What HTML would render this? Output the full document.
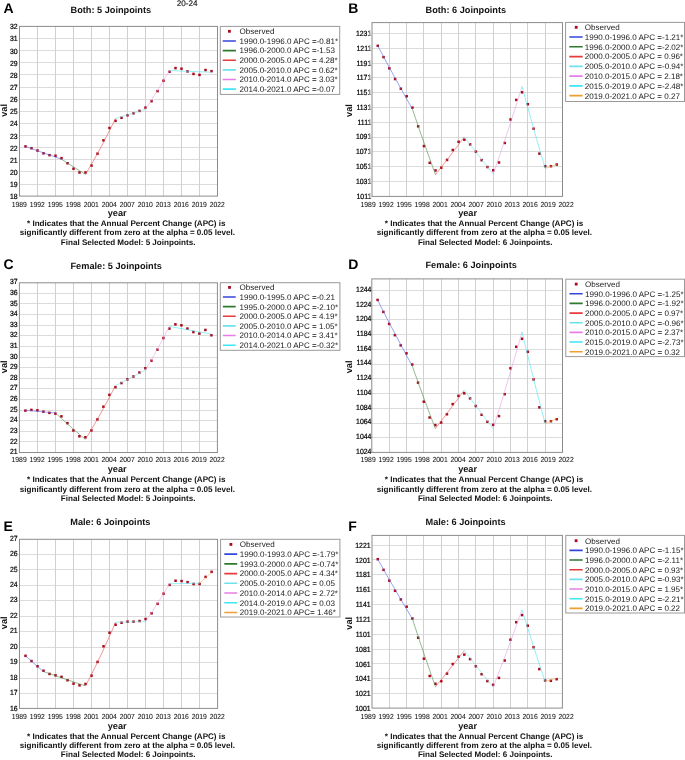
<!DOCTYPE html>
<html><head><meta charset="utf-8"><title>Joinpoint</title><style>
html,body{margin:0;padding:0;background:#fff;}
svg{display:block;filter:blur(0.35px);}
text{font-family:"Liberation Sans", sans-serif;fill:#111;text-rendering:geometricPrecision;}
.let{font-size:14.0px;font-weight:bold;fill:#000;}
.ttl{font-size:9.2px;font-weight:bold;fill:#111;}
.yt{font-size:7.5px;text-anchor:end;fill:#000;stroke:#000;stroke-width:0.22px;}
.xt{font-size:7.4px;text-anchor:middle;fill:#111;stroke:#111;stroke-width:0.06px;}
.al{font-size:9.2px;font-weight:bold;text-anchor:middle;fill:#111;}
.lg{font-size:8.05px;fill:#1a1a1a;}
.fn{font-size:8.08px;font-weight:bold;fill:#111;}
.gh{stroke:#dcdcdc;stroke-width:1;}
.gv{stroke:#d0d0d0;stroke-width:1;}
.bd{fill:none;stroke:#8c8c8c;stroke-width:1;}
.lb{fill:#fff;stroke:#9a9a9a;stroke-width:1;}
</style></head>
<body><svg width="685" height="760" viewBox="0 0 685 760">
<rect width="685" height="760" fill="#fff"/>
<text x="176.7" y="5.9" style="font-size:8.2px;fill:#111;stroke:#111;stroke-width:0.12px">20-24</text>
<text x="3.4" y="12.9" class="let">A</text>
<text x="70.5" y="13.1" class="ttl">Both: 5 Joinpoints</text>
<rect x="19.5" y="26.4" width="198" height="169.7" fill="#fff"/>
<line x1="19.5" x2="217.5" y1="184.5" y2="184.5" class="gh"/>
<line x1="19.5" x2="217.5" y1="171.5" y2="171.5" class="gh"/>
<line x1="19.5" x2="217.5" y1="159.5" y2="159.5" class="gh"/>
<line x1="19.5" x2="217.5" y1="147.5" y2="147.5" class="gh"/>
<line x1="19.5" x2="217.5" y1="135.5" y2="135.5" class="gh"/>
<line x1="19.5" x2="217.5" y1="123.5" y2="123.5" class="gh"/>
<line x1="19.5" x2="217.5" y1="111.5" y2="111.5" class="gh"/>
<line x1="19.5" x2="217.5" y1="99.5" y2="99.5" class="gh"/>
<line x1="19.5" x2="217.5" y1="87.5" y2="87.5" class="gh"/>
<line x1="19.5" x2="217.5" y1="74.5" y2="74.5" class="gh"/>
<line x1="19.5" x2="217.5" y1="62.5" y2="62.5" class="gh"/>
<line x1="19.5" x2="217.5" y1="50.5" y2="50.5" class="gh"/>
<line x1="19.5" x2="217.5" y1="38.5" y2="38.5" class="gh"/>
<line x1="37.5" x2="37.5" y1="26.4" y2="196.1" class="gv"/>
<line x1="55.5" x2="55.5" y1="26.4" y2="196.1" class="gv"/>
<line x1="73.5" x2="73.5" y1="26.4" y2="196.1" class="gv"/>
<line x1="91.5" x2="91.5" y1="26.4" y2="196.1" class="gv"/>
<line x1="109.5" x2="109.5" y1="26.4" y2="196.1" class="gv"/>
<line x1="127.5" x2="127.5" y1="26.4" y2="196.1" class="gv"/>
<line x1="145.5" x2="145.5" y1="26.4" y2="196.1" class="gv"/>
<line x1="163.5" x2="163.5" y1="26.4" y2="196.1" class="gv"/>
<line x1="181.5" x2="181.5" y1="26.4" y2="196.1" class="gv"/>
<line x1="199.5" x2="199.5" y1="26.4" y2="196.1" class="gv"/>
<rect x="19.5" y="26.4" width="198" height="169.7" class="bd"/>
<text transform="translate(17.7,199.18) scale(0.92,1)" class="yt">18</text>
<text transform="translate(17.7,187.05) scale(0.92,1)" class="yt">19</text>
<text transform="translate(17.7,174.92) scale(0.92,1)" class="yt">20</text>
<text transform="translate(17.7,162.79) scale(0.92,1)" class="yt">21</text>
<text transform="translate(17.7,150.66) scale(0.92,1)" class="yt">22</text>
<text transform="translate(17.7,138.53) scale(0.92,1)" class="yt">23</text>
<text transform="translate(17.7,126.39) scale(0.92,1)" class="yt">24</text>
<text transform="translate(17.7,114.26) scale(0.92,1)" class="yt">25</text>
<text transform="translate(17.7,102.13) scale(0.92,1)" class="yt">26</text>
<text transform="translate(17.7,90) scale(0.92,1)" class="yt">27</text>
<text transform="translate(17.7,77.87) scale(0.92,1)" class="yt">28</text>
<text transform="translate(17.7,65.74) scale(0.92,1)" class="yt">29</text>
<text transform="translate(17.7,53.61) scale(0.92,1)" class="yt">30</text>
<text transform="translate(17.7,41.48) scale(0.92,1)" class="yt">31</text>
<text transform="translate(17.7,29.35) scale(0.92,1)" class="yt">32</text>
<text transform="translate(19.2,206.7) scale(0.92,1)" class="xt">1989</text>
<text transform="translate(37.2,206.7) scale(0.92,1)" class="xt">1992</text>
<text transform="translate(55.2,206.7) scale(0.92,1)" class="xt">1995</text>
<text transform="translate(73.2,206.7) scale(0.92,1)" class="xt">1998</text>
<text transform="translate(91.2,206.7) scale(0.92,1)" class="xt">2001</text>
<text transform="translate(109.2,206.7) scale(0.92,1)" class="xt">2004</text>
<text transform="translate(127.2,206.7) scale(0.92,1)" class="xt">2007</text>
<text transform="translate(145.2,206.7) scale(0.92,1)" class="xt">2010</text>
<text transform="translate(163.2,206.7) scale(0.92,1)" class="xt">2013</text>
<text transform="translate(181.2,206.7) scale(0.92,1)" class="xt">2016</text>
<text transform="translate(199.2,206.7) scale(0.92,1)" class="xt">2019</text>
<text transform="translate(217.2,206.7) scale(0.92,1)" class="xt">2022</text>
<text transform="translate(6.8,110.4) rotate(-90)" class="al">val</text>
<text x="117.2" y="215.7" class="al">year</text>
<rect x="24.25" y="145.16" width="2.5" height="2.5" fill="#a80a1c"/>
<rect x="30.25" y="146.98" width="2.5" height="2.5" fill="#a80a1c"/>
<rect x="36.25" y="149.28" width="2.5" height="2.5" fill="#a80a1c"/>
<rect x="42.25" y="152.07" width="2.5" height="2.5" fill="#a80a1c"/>
<rect x="48.25" y="153.88" width="2.5" height="2.5" fill="#a80a1c"/>
<rect x="54.25" y="154.49" width="2.5" height="2.5" fill="#a80a1c"/>
<rect x="60.25" y="156.91" width="2.5" height="2.5" fill="#a80a1c"/>
<rect x="66.25" y="162" width="2.5" height="2.5" fill="#a80a1c"/>
<rect x="72.25" y="167.46" width="2.5" height="2.5" fill="#a80a1c"/>
<rect x="78.25" y="171.22" width="2.5" height="2.5" fill="#a80a1c"/>
<rect x="84.25" y="171.22" width="2.5" height="2.5" fill="#a80a1c"/>
<rect x="90.25" y="164.31" width="2.5" height="2.5" fill="#a80a1c"/>
<rect x="96.25" y="152.43" width="2.5" height="2.5" fill="#a80a1c"/>
<rect x="102.25" y="139.1" width="2.5" height="2.5" fill="#a80a1c"/>
<rect x="108.25" y="126.74" width="2.5" height="2.5" fill="#a80a1c"/>
<rect x="114.25" y="119.58" width="2.5" height="2.5" fill="#a80a1c"/>
<rect x="120.25" y="116.55" width="2.5" height="2.5" fill="#a80a1c"/>
<rect x="126.25" y="114.01" width="2.5" height="2.5" fill="#a80a1c"/>
<rect x="132.25" y="112.07" width="2.5" height="2.5" fill="#a80a1c"/>
<rect x="138.25" y="109.65" width="2.5" height="2.5" fill="#a80a1c"/>
<rect x="144.25" y="106.37" width="2.5" height="2.5" fill="#a80a1c"/>
<rect x="150.25" y="99.95" width="2.5" height="2.5" fill="#a80a1c"/>
<rect x="156.25" y="89.89" width="2.5" height="2.5" fill="#a80a1c"/>
<rect x="162.25" y="79.47" width="2.5" height="2.5" fill="#a80a1c"/>
<rect x="168.25" y="70.5" width="2.5" height="2.5" fill="#a80a1c"/>
<rect x="174.25" y="66.86" width="2.5" height="2.5" fill="#a80a1c"/>
<rect x="180.25" y="67.47" width="2.5" height="2.5" fill="#a80a1c"/>
<rect x="186.25" y="70.14" width="2.5" height="2.5" fill="#a80a1c"/>
<rect x="192.25" y="72.68" width="2.5" height="2.5" fill="#a80a1c"/>
<rect x="198.25" y="73.65" width="2.5" height="2.5" fill="#a80a1c"/>
<rect x="204.25" y="68.8" width="2.5" height="2.5" fill="#a80a1c"/>
<rect x="210.25" y="69.89" width="2.5" height="2.5" fill="#a80a1c"/>
<polyline points="25.5,146.41 27,146.95 28.5,147.5 30,148.04 31.5,148.58 33,149.12 34.5,149.66 36,150.19 37.5,150.73 39,151.26 40.5,151.8 42,152.33 43.5,152.86 45,153.4 46.5,153.93 48,154.45 49.5,154.98 51,155.51 52.5,156.03 54,156.56 55.5,157.08 57,157.6 58.5,158.13 60,158.65 61.5,159.16" fill="none" stroke="#5262ec" stroke-width="0.75" stroke-opacity="0.8"/>
<polyline points="61.5,159.16 63,160.15 64.5,161.12 66,162.1 67.5,163.07 69,164.03 70.5,165 72,165.96 73.5,166.91 75,167.86 76.5,168.81 78,169.75 79.5,170.7 81,171.63 82.5,172.57 84,173.5 85.5,174.42" fill="none" stroke="#4a8c4a" stroke-width="0.75" stroke-opacity="0.8"/>
<polyline points="85.5,174.42 87,171.9 88.5,169.34 90,166.76 91.5,164.16 93,161.52 94.5,158.86 96,156.17 97.5,153.45 99,150.71 100.5,147.93 102,145.12 103.5,142.29 105,139.43 106.5,136.53 108,133.61 109.5,130.65 111,127.66 112.5,124.64 114,121.59 115.5,118.51" fill="none" stroke="#ea4c4c" stroke-width="0.75" stroke-opacity="0.8"/>
<polyline points="115.5,118.51 117,118.05 118.5,117.6 120,117.14 121.5,116.68 123,116.22 124.5,115.76 126,115.29 127.5,114.83 129,114.37 130.5,113.91 132,113.44 133.5,112.98 135,112.51 136.5,112.04 138,111.58 139.5,111.11 141,110.64 142.5,110.17 144,109.7 145.5,109.23" fill="none" stroke="#6ae2ee" stroke-width="0.75" stroke-opacity="0.8"/>
<polyline points="145.5,109.23 147,106.94 148.5,104.64 150,102.32 151.5,99.99 153,97.63 154.5,95.26 156,92.87 157.5,90.46 159,88.04 160.5,85.59 162,83.13 163.5,80.65 165,78.15 166.5,75.64 168,73.1 169.5,70.54" fill="none" stroke="#e6a0e8" stroke-width="0.75" stroke-opacity="0.8"/>
<polyline points="169.5,70.54 171,70.6 172.5,70.66 174,70.72 175.5,70.78 177,70.84 178.5,70.91 180,70.97 181.5,71.03 183,71.09 184.5,71.15 186,71.21 187.5,71.27 189,71.33 190.5,71.39 192,71.45 193.5,71.51 195,71.57 196.5,71.63 198,71.69 199.5,71.75 201,71.81 202.5,71.87 204,71.93 205.5,71.99 207,72.05 208.5,72.11 210,72.17 211.5,72.22" fill="none" stroke="#48e4f0" stroke-width="0.75" stroke-opacity="0.8"/>
<rect x="220.3" y="26.4" width="119.4" height="68" class="lb"/>
<clipPath id="clA"><rect x="220.3" y="26.4" width="118.8" height="68"/></clipPath>
<g clip-path="url(#clA)">
<rect x="228" y="29.9" width="2.8" height="2.8" fill="#a80a1c"/>
<text x="239.5" y="34.2" class="lg">Observed</text>
<line x1="222.7" x2="235.9" y1="40.94" y2="40.94" stroke="#3346dc" stroke-width="1.6"/>
<text x="239.5" y="43.84" class="lg">1990.0-1996.0 APC =-0.81*</text>
<line x1="222.7" x2="235.9" y1="50.58" y2="50.58" stroke="#2e7a2e" stroke-width="1.6"/>
<text x="239.5" y="53.48" class="lg">1996.0-2000.0 APC =-1.53</text>
<line x1="222.7" x2="235.9" y1="60.22" y2="60.22" stroke="#e83a3a" stroke-width="1.6"/>
<text x="239.5" y="63.12" class="lg">2000.0-2005.0 APC = 4.28*</text>
<line x1="222.7" x2="235.9" y1="69.86" y2="69.86" stroke="#6ee0ea" stroke-width="1.6"/>
<text x="239.5" y="72.76" class="lg">2005.0-2010.0 APC = 0.62*</text>
<line x1="222.7" x2="235.9" y1="79.5" y2="79.5" stroke="#e57ee8" stroke-width="1.6"/>
<text x="239.5" y="82.4" class="lg">2010.0-2014.0 APC = 3.03*</text>
<line x1="222.7" x2="235.9" y1="89.14" y2="89.14" stroke="#3de6f2" stroke-width="1.6"/>
<text x="239.5" y="92.04" class="lg">2014.0-2021.0 APC =-0.07</text>
</g>
<text x="27" y="225.7" class="fn">* Indicates that the Annual Percent Change (APC) is</text>
<text x="19.8" y="235.1" class="fn">significantly different from zero at the alpha = 0.05 level.</text>
<text x="60.8" y="244.5" class="fn">Final Selected Model: 5 Joinpoints.</text>
<text x="348.3" y="12.8" class="let">B</text>
<text x="425.5" y="12.9" class="ttl">Both: 6 Joinpoints</text>
<rect x="372" y="22.6" width="190.5" height="173.8" fill="#fff"/>
<line x1="372" x2="562.5" y1="181.5" y2="181.5" class="gh"/>
<line x1="372" x2="562.5" y1="166.5" y2="166.5" class="gh"/>
<line x1="372" x2="562.5" y1="151.5" y2="151.5" class="gh"/>
<line x1="372" x2="562.5" y1="137.5" y2="137.5" class="gh"/>
<line x1="372" x2="562.5" y1="122.5" y2="122.5" class="gh"/>
<line x1="372" x2="562.5" y1="107.5" y2="107.5" class="gh"/>
<line x1="372" x2="562.5" y1="92.5" y2="92.5" class="gh"/>
<line x1="372" x2="562.5" y1="77.5" y2="77.5" class="gh"/>
<line x1="372" x2="562.5" y1="63.5" y2="63.5" class="gh"/>
<line x1="372" x2="562.5" y1="48.5" y2="48.5" class="gh"/>
<line x1="372" x2="562.5" y1="33.5" y2="33.5" class="gh"/>
<line x1="389.5" x2="389.5" y1="22.6" y2="196.4" class="gv"/>
<line x1="406.5" x2="406.5" y1="22.6" y2="196.4" class="gv"/>
<line x1="423.5" x2="423.5" y1="22.6" y2="196.4" class="gv"/>
<line x1="441.5" x2="441.5" y1="22.6" y2="196.4" class="gv"/>
<line x1="458.5" x2="458.5" y1="22.6" y2="196.4" class="gv"/>
<line x1="475.5" x2="475.5" y1="22.6" y2="196.4" class="gv"/>
<line x1="493.5" x2="493.5" y1="22.6" y2="196.4" class="gv"/>
<line x1="510.5" x2="510.5" y1="22.6" y2="196.4" class="gv"/>
<line x1="527.5" x2="527.5" y1="22.6" y2="196.4" class="gv"/>
<line x1="545.5" x2="545.5" y1="22.6" y2="196.4" class="gv"/>
<rect x="372" y="22.6" width="190.5" height="173.8" class="bd"/>
<text transform="translate(371.3,198.58) scale(0.92,1)" class="yt">1011</text>
<text transform="translate(371.3,183.81) scale(0.92,1)" class="yt">1031</text>
<text transform="translate(371.3,169.03) scale(0.92,1)" class="yt">1051</text>
<text transform="translate(371.3,154.26) scale(0.92,1)" class="yt">1071</text>
<text transform="translate(371.3,139.48) scale(0.92,1)" class="yt">1091</text>
<text transform="translate(371.3,124.71) scale(0.92,1)" class="yt">1111</text>
<text transform="translate(371.3,109.94) scale(0.92,1)" class="yt">1131</text>
<text transform="translate(371.3,95.16) scale(0.92,1)" class="yt">1151</text>
<text transform="translate(371.3,80.39) scale(0.92,1)" class="yt">1171</text>
<text transform="translate(371.3,65.61) scale(0.92,1)" class="yt">1191</text>
<text transform="translate(371.3,50.84) scale(0.92,1)" class="yt">1211</text>
<text transform="translate(371.3,36.07) scale(0.92,1)" class="yt">1231</text>
<rect x="369.1" y="193.18" width="2.4" height="5.2" fill="#c4c4c4" fill-opacity="0.75"/>
<rect x="369.1" y="178.41" width="2.4" height="5.2" fill="#c4c4c4" fill-opacity="0.75"/>
<rect x="369.1" y="163.63" width="2.4" height="5.2" fill="#c4c4c4" fill-opacity="0.75"/>
<rect x="369.1" y="148.86" width="2.4" height="5.2" fill="#c4c4c4" fill-opacity="0.75"/>
<rect x="369.1" y="134.08" width="2.4" height="5.2" fill="#c4c4c4" fill-opacity="0.75"/>
<rect x="369.1" y="119.31" width="2.4" height="5.2" fill="#c4c4c4" fill-opacity="0.75"/>
<rect x="369.1" y="104.54" width="2.4" height="5.2" fill="#c4c4c4" fill-opacity="0.75"/>
<rect x="369.1" y="89.76" width="2.4" height="5.2" fill="#c4c4c4" fill-opacity="0.75"/>
<rect x="369.1" y="74.99" width="2.4" height="5.2" fill="#c4c4c4" fill-opacity="0.75"/>
<rect x="369.1" y="60.21" width="2.4" height="5.2" fill="#c4c4c4" fill-opacity="0.75"/>
<rect x="369.1" y="45.44" width="2.4" height="5.2" fill="#c4c4c4" fill-opacity="0.75"/>
<rect x="369.1" y="30.67" width="2.4" height="5.2" fill="#c4c4c4" fill-opacity="0.75"/>
<text transform="translate(368.1,206.7) scale(0.92,1)" class="xt">1989</text>
<text transform="translate(386.1,206.7) scale(0.92,1)" class="xt">1992</text>
<text transform="translate(404.1,206.7) scale(0.92,1)" class="xt">1995</text>
<text transform="translate(422.1,206.7) scale(0.92,1)" class="xt">1998</text>
<text transform="translate(440.1,206.7) scale(0.92,1)" class="xt">2001</text>
<text transform="translate(458.1,206.7) scale(0.92,1)" class="xt">2004</text>
<text transform="translate(476.1,206.7) scale(0.92,1)" class="xt">2007</text>
<text transform="translate(494.1,206.7) scale(0.92,1)" class="xt">2010</text>
<text transform="translate(512.1,206.7) scale(0.92,1)" class="xt">2013</text>
<text transform="translate(530.1,206.7) scale(0.92,1)" class="xt">2016</text>
<text transform="translate(548.1,206.7) scale(0.92,1)" class="xt">2019</text>
<text transform="translate(566.1,206.7) scale(0.92,1)" class="xt">2022</text>
<text transform="translate(352.1,110.5) rotate(-90)" class="al">val</text>
<text x="467.6" y="216" class="al">year</text>
<rect x="376.52" y="44.56" width="2.5" height="2.5" fill="#a80a1c"/>
<rect x="382.3" y="55.88" width="2.5" height="2.5" fill="#a80a1c"/>
<rect x="388.07" y="67.06" width="2.5" height="2.5" fill="#a80a1c"/>
<rect x="393.84" y="77.79" width="2.5" height="2.5" fill="#a80a1c"/>
<rect x="399.61" y="87.48" width="2.5" height="2.5" fill="#a80a1c"/>
<rect x="405.39" y="95.03" width="2.5" height="2.5" fill="#a80a1c"/>
<rect x="411.16" y="106.35" width="2.5" height="2.5" fill="#a80a1c"/>
<rect x="416.93" y="125.07" width="2.5" height="2.5" fill="#a80a1c"/>
<rect x="422.7" y="144.83" width="2.5" height="2.5" fill="#a80a1c"/>
<rect x="428.48" y="161.55" width="2.5" height="2.5" fill="#a80a1c"/>
<rect x="434.25" y="169.18" width="2.5" height="2.5" fill="#a80a1c"/>
<rect x="440.02" y="166.44" width="2.5" height="2.5" fill="#a80a1c"/>
<rect x="445.8" y="158.67" width="2.5" height="2.5" fill="#a80a1c"/>
<rect x="451.57" y="148.75" width="2.5" height="2.5" fill="#a80a1c"/>
<rect x="457.34" y="140.54" width="2.5" height="2.5" fill="#a80a1c"/>
<rect x="463.11" y="138.47" width="2.5" height="2.5" fill="#a80a1c"/>
<rect x="468.89" y="143.13" width="2.5" height="2.5" fill="#a80a1c"/>
<rect x="474.66" y="150.45" width="2.5" height="2.5" fill="#a80a1c"/>
<rect x="480.43" y="158.89" width="2.5" height="2.5" fill="#a80a1c"/>
<rect x="486.2" y="165.77" width="2.5" height="2.5" fill="#a80a1c"/>
<rect x="491.98" y="169.03" width="2.5" height="2.5" fill="#a80a1c"/>
<rect x="497.75" y="161.26" width="2.5" height="2.5" fill="#a80a1c"/>
<rect x="503.52" y="141.72" width="2.5" height="2.5" fill="#a80a1c"/>
<rect x="509.3" y="118.26" width="2.5" height="2.5" fill="#a80a1c"/>
<rect x="515.07" y="98.65" width="2.5" height="2.5" fill="#a80a1c"/>
<rect x="520.84" y="91.03" width="2.5" height="2.5" fill="#a80a1c"/>
<rect x="526.61" y="102.95" width="2.5" height="2.5" fill="#a80a1c"/>
<rect x="532.39" y="127.44" width="2.5" height="2.5" fill="#a80a1c"/>
<rect x="538.16" y="152.38" width="2.5" height="2.5" fill="#a80a1c"/>
<rect x="543.93" y="164.96" width="2.5" height="2.5" fill="#a80a1c"/>
<rect x="549.7" y="164.96" width="2.5" height="2.5" fill="#a80a1c"/>
<rect x="555.48" y="163.26" width="2.5" height="2.5" fill="#a80a1c"/>
<polyline points="377.77,45.81 379.22,48.54 380.66,51.26 382.1,53.98 383.55,56.68 384.99,59.38 386.43,62.07 387.88,64.75 389.32,67.43 390.76,70.09 392.2,72.75 393.65,75.4 395.09,78.04 396.53,80.67 397.98,83.3 399.42,85.92 400.86,88.53 402.31,91.13 403.75,93.72 405.19,96.31 406.64,98.88 408.08,101.45 409.52,104.01 410.97,106.57 412.41,109.12" fill="none" stroke="#5262ec" stroke-width="0.75" stroke-opacity="0.8"/>
<polyline points="412.41,109.12 413.85,113.37 415.3,117.6 416.74,121.8 418.18,125.99 419.62,130.16 421.07,134.3 422.51,138.42 423.95,142.53 425.4,146.61 426.84,150.67 428.28,154.71 429.73,158.73 431.17,162.73 432.61,166.7 434.06,170.66 435.5,174.6" fill="none" stroke="#4a8c4a" stroke-width="0.75" stroke-opacity="0.8"/>
<polyline points="435.5,174.6 436.94,172.76 438.39,170.91 439.83,169.06 441.27,167.21 442.72,165.35 444.16,163.49 445.6,161.62 447.05,159.75 448.49,157.87 449.93,155.99 451.38,154.1 452.82,152.21 454.26,150.32 455.7,148.42 457.15,146.51 458.59,144.61 460.03,142.69 461.48,140.78 462.92,138.85 464.36,136.93" fill="none" stroke="#ea4c4c" stroke-width="0.75" stroke-opacity="0.8"/>
<polyline points="464.36,136.93 465.81,138.83 467.25,140.73 468.69,142.63 470.14,144.52 471.58,146.4 473.02,148.29 474.47,150.16 475.91,152.04 477.35,153.91 478.8,155.77 480.24,157.63 481.68,159.49 483.12,161.34 484.57,163.19 486.01,165.03 487.45,166.87 488.9,168.7 490.34,170.53 491.78,172.36 493.23,174.18" fill="none" stroke="#6ae2ee" stroke-width="0.75" stroke-opacity="0.8"/>
<polyline points="493.23,174.18 494.67,170.01 496.11,165.83 497.56,161.62 499,157.38 500.44,153.13 501.89,148.85 503.33,144.55 504.77,140.22 506.22,135.88 507.66,131.5 509.1,127.11 510.55,122.69 511.99,118.25 513.43,113.78 514.88,109.29 516.32,104.77 517.76,100.23 519.2,95.67 520.65,91.08 522.09,86.47" fill="none" stroke="#e6a0e8" stroke-width="0.75" stroke-opacity="0.8"/>
<polyline points="522.09,86.47 523.53,91.84 524.98,97.17 526.42,102.48 527.86,107.75 529.31,112.98 530.75,118.19 532.19,123.36 533.64,128.5 535.08,133.61 536.52,138.68 537.97,143.72 539.41,148.74 540.85,153.72 542.3,158.67 543.74,163.58 545.18,168.47" fill="none" stroke="#48e4f0" stroke-width="0.75" stroke-opacity="0.8"/>
<polyline points="545.18,168.47 546.62,167.95 548.07,167.43 549.51,166.9 550.95,166.38 552.4,165.85 553.84,165.33 555.28,164.8 556.73,164.28" fill="none" stroke="#f0a840" stroke-width="0.75" stroke-opacity="0.8"/>
<rect x="565.6" y="22.4" width="118.9" height="79.1" class="lb"/>
<clipPath id="clB"><rect x="565.6" y="22.4" width="118.3" height="79.1"/></clipPath>
<g clip-path="url(#clB)">
<rect x="574.8" y="25.9" width="2.8" height="2.8" fill="#a80a1c"/>
<text x="584.8" y="30.2" class="lg">Observed</text>
<line x1="569.3" x2="582.7" y1="37.06" y2="37.06" stroke="#3346dc" stroke-width="1.6"/>
<text x="584.8" y="39.96" class="lg">1990.0-1996.0 APC =-1.21*</text>
<line x1="569.3" x2="582.7" y1="46.82" y2="46.82" stroke="#2e7a2e" stroke-width="1.6"/>
<text x="584.8" y="49.72" class="lg">1996.0-2000.0 APC =-2.02*</text>
<line x1="569.3" x2="582.7" y1="56.58" y2="56.58" stroke="#e83a3a" stroke-width="1.6"/>
<text x="584.8" y="59.48" class="lg">2000.0-2005.0 APC = 0.96*</text>
<line x1="569.3" x2="582.7" y1="66.34" y2="66.34" stroke="#6ee0ea" stroke-width="1.6"/>
<text x="584.8" y="69.24" class="lg">2005.0-2010.0 APC =-0.94*</text>
<line x1="569.3" x2="582.7" y1="76.1" y2="76.1" stroke="#e57ee8" stroke-width="1.6"/>
<text x="584.8" y="79" class="lg">2010.0-2015.0 APC = 2.18*</text>
<line x1="569.3" x2="582.7" y1="85.86" y2="85.86" stroke="#3de6f2" stroke-width="1.6"/>
<text x="584.8" y="88.76" class="lg">2015.0-2019.0 APC =-2.48*</text>
<line x1="569.3" x2="582.7" y1="95.62" y2="95.62" stroke="#f0a030" stroke-width="1.6"/>
<text x="584.8" y="98.52" class="lg">2019.0-2021.0 APC = 0.27</text>
</g>
<text x="384.8" y="225.7" class="fn">* Indicates that the Annual Percent Change (APC) is</text>
<text x="376.8" y="235.1" class="fn">significantly different from zero at the alpha = 0.05 level.</text>
<text x="417.9" y="244.5" class="fn">Final Selected Model: 6 Joinpoints.</text>
<text x="3.4" y="269.2" class="let">C</text>
<text x="70.5" y="268.6" class="ttl">Female: 5 Joinpoints</text>
<rect x="19.4" y="282.8" width="198" height="169.7" fill="#fff"/>
<line x1="19.4" x2="217.4" y1="441.5" y2="441.5" class="gh"/>
<line x1="19.4" x2="217.4" y1="431.5" y2="431.5" class="gh"/>
<line x1="19.4" x2="217.4" y1="420.5" y2="420.5" class="gh"/>
<line x1="19.4" x2="217.4" y1="410.5" y2="410.5" class="gh"/>
<line x1="19.4" x2="217.4" y1="399.5" y2="399.5" class="gh"/>
<line x1="19.4" x2="217.4" y1="388.5" y2="388.5" class="gh"/>
<line x1="19.4" x2="217.4" y1="378.5" y2="378.5" class="gh"/>
<line x1="19.4" x2="217.4" y1="367.5" y2="367.5" class="gh"/>
<line x1="19.4" x2="217.4" y1="357.5" y2="357.5" class="gh"/>
<line x1="19.4" x2="217.4" y1="346.5" y2="346.5" class="gh"/>
<line x1="19.4" x2="217.4" y1="335.5" y2="335.5" class="gh"/>
<line x1="19.4" x2="217.4" y1="325.5" y2="325.5" class="gh"/>
<line x1="19.4" x2="217.4" y1="314.5" y2="314.5" class="gh"/>
<line x1="19.4" x2="217.4" y1="303.5" y2="303.5" class="gh"/>
<line x1="19.4" x2="217.4" y1="293.5" y2="293.5" class="gh"/>
<line x1="37.5" x2="37.5" y1="282.8" y2="452.5" class="gv"/>
<line x1="55.5" x2="55.5" y1="282.8" y2="452.5" class="gv"/>
<line x1="73.5" x2="73.5" y1="282.8" y2="452.5" class="gv"/>
<line x1="91.5" x2="91.5" y1="282.8" y2="452.5" class="gv"/>
<line x1="109.5" x2="109.5" y1="282.8" y2="452.5" class="gv"/>
<line x1="127.5" x2="127.5" y1="282.8" y2="452.5" class="gv"/>
<line x1="145.5" x2="145.5" y1="282.8" y2="452.5" class="gv"/>
<line x1="163.5" x2="163.5" y1="282.8" y2="452.5" class="gv"/>
<line x1="181.5" x2="181.5" y1="282.8" y2="452.5" class="gv"/>
<line x1="199.5" x2="199.5" y1="282.8" y2="452.5" class="gv"/>
<rect x="19.4" y="282.8" width="198" height="169.7" class="bd"/>
<text transform="translate(17.7,454.18) scale(0.92,1)" class="yt">21</text>
<text transform="translate(17.7,443.56) scale(0.92,1)" class="yt">22</text>
<text transform="translate(17.7,432.95) scale(0.92,1)" class="yt">23</text>
<text transform="translate(17.7,422.34) scale(0.92,1)" class="yt">24</text>
<text transform="translate(17.7,411.72) scale(0.92,1)" class="yt">25</text>
<text transform="translate(17.7,401.11) scale(0.92,1)" class="yt">26</text>
<text transform="translate(17.7,390.49) scale(0.92,1)" class="yt">27</text>
<text transform="translate(17.7,379.88) scale(0.92,1)" class="yt">28</text>
<text transform="translate(17.7,369.26) scale(0.92,1)" class="yt">29</text>
<text transform="translate(17.7,358.64) scale(0.92,1)" class="yt">30</text>
<text transform="translate(17.7,348.03) scale(0.92,1)" class="yt">31</text>
<text transform="translate(17.7,337.42) scale(0.92,1)" class="yt">32</text>
<text transform="translate(17.7,326.8) scale(0.92,1)" class="yt">33</text>
<text transform="translate(17.7,316.19) scale(0.92,1)" class="yt">34</text>
<text transform="translate(17.7,305.57) scale(0.92,1)" class="yt">35</text>
<text transform="translate(17.7,294.96) scale(0.92,1)" class="yt">36</text>
<text transform="translate(17.7,284.34) scale(0.92,1)" class="yt">37</text>
<text transform="translate(19.1,462.4) scale(0.92,1)" class="xt">1989</text>
<text transform="translate(37.1,462.4) scale(0.92,1)" class="xt">1992</text>
<text transform="translate(55.1,462.4) scale(0.92,1)" class="xt">1995</text>
<text transform="translate(73.1,462.4) scale(0.92,1)" class="xt">1998</text>
<text transform="translate(91.1,462.4) scale(0.92,1)" class="xt">2001</text>
<text transform="translate(109.1,462.4) scale(0.92,1)" class="xt">2004</text>
<text transform="translate(127.1,462.4) scale(0.92,1)" class="xt">2007</text>
<text transform="translate(145.1,462.4) scale(0.92,1)" class="xt">2010</text>
<text transform="translate(163.1,462.4) scale(0.92,1)" class="xt">2013</text>
<text transform="translate(181.1,462.4) scale(0.92,1)" class="xt">2016</text>
<text transform="translate(199.1,462.4) scale(0.92,1)" class="xt">2019</text>
<text transform="translate(217.1,462.4) scale(0.92,1)" class="xt">2022</text>
<text transform="translate(6.8,366.8) rotate(-90)" class="al">val</text>
<text x="117.2" y="472.1" class="al">year</text>
<rect x="24.15" y="409.38" width="2.5" height="2.5" fill="#a80a1c"/>
<rect x="30.15" y="408.64" width="2.5" height="2.5" fill="#a80a1c"/>
<rect x="36.15" y="409.06" width="2.5" height="2.5" fill="#a80a1c"/>
<rect x="42.15" y="410.44" width="2.5" height="2.5" fill="#a80a1c"/>
<rect x="48.15" y="411.61" width="2.5" height="2.5" fill="#a80a1c"/>
<rect x="54.15" y="412.35" width="2.5" height="2.5" fill="#a80a1c"/>
<rect x="60.15" y="415.1" width="2.5" height="2.5" fill="#a80a1c"/>
<rect x="66.15" y="421.89" width="2.5" height="2.5" fill="#a80a1c"/>
<rect x="72.15" y="429.2" width="2.5" height="2.5" fill="#a80a1c"/>
<rect x="78.15" y="435.03" width="2.5" height="2.5" fill="#a80a1c"/>
<rect x="84.15" y="435.99" width="2.5" height="2.5" fill="#a80a1c"/>
<rect x="90.15" y="429.2" width="2.5" height="2.5" fill="#a80a1c"/>
<rect x="96.15" y="418.18" width="2.5" height="2.5" fill="#a80a1c"/>
<rect x="102.15" y="405.46" width="2.5" height="2.5" fill="#a80a1c"/>
<rect x="108.15" y="393.59" width="2.5" height="2.5" fill="#a80a1c"/>
<rect x="114.15" y="385.95" width="2.5" height="2.5" fill="#a80a1c"/>
<rect x="120.15" y="381.82" width="2.5" height="2.5" fill="#a80a1c"/>
<rect x="126.15" y="378.11" width="2.5" height="2.5" fill="#a80a1c"/>
<rect x="132.15" y="375.25" width="2.5" height="2.5" fill="#a80a1c"/>
<rect x="138.15" y="371.33" width="2.5" height="2.5" fill="#a80a1c"/>
<rect x="144.15" y="366.98" width="2.5" height="2.5" fill="#a80a1c"/>
<rect x="150.15" y="359.45" width="2.5" height="2.5" fill="#a80a1c"/>
<rect x="156.15" y="348.43" width="2.5" height="2.5" fill="#a80a1c"/>
<rect x="162.15" y="336.77" width="2.5" height="2.5" fill="#a80a1c"/>
<rect x="168.15" y="327.34" width="2.5" height="2.5" fill="#a80a1c"/>
<rect x="174.15" y="323.1" width="2.5" height="2.5" fill="#a80a1c"/>
<rect x="180.15" y="324.05" width="2.5" height="2.5" fill="#a80a1c"/>
<rect x="186.15" y="327.34" width="2.5" height="2.5" fill="#a80a1c"/>
<rect x="192.15" y="330.83" width="2.5" height="2.5" fill="#a80a1c"/>
<rect x="198.15" y="332.32" width="2.5" height="2.5" fill="#a80a1c"/>
<rect x="204.15" y="328.71" width="2.5" height="2.5" fill="#a80a1c"/>
<rect x="210.15" y="334.01" width="2.5" height="2.5" fill="#a80a1c"/>
<polyline points="25.4,410.21 26.9,410.35 28.4,410.48 29.9,410.62 31.4,410.76 32.9,410.9 34.4,411.04 35.9,411.18 37.4,411.32 38.9,411.46 40.4,411.59 41.9,411.73 43.4,411.87 44.9,412.01 46.4,412.15 47.9,412.29 49.4,412.42 50.9,412.56 52.4,412.7 53.9,412.84 55.4,412.98" fill="none" stroke="#5262ec" stroke-width="0.75" stroke-opacity="0.8"/>
<polyline points="55.4,412.98 56.9,414.36 58.4,415.74 59.9,417.12 61.4,418.48 62.9,419.84 64.4,421.19 65.9,422.53 67.4,423.87 68.9,425.2 70.4,426.52 71.9,427.84 73.4,429.15 74.9,430.45 76.4,431.74 77.9,433.03 79.4,434.31 80.9,435.58 82.4,436.85 83.9,438.11 85.4,439.37" fill="none" stroke="#4a8c4a" stroke-width="0.75" stroke-opacity="0.8"/>
<polyline points="85.4,439.37 86.9,436.94 88.4,434.48 89.9,432 91.4,429.49 92.9,426.96 94.4,424.4 95.9,421.81 97.4,419.2 98.9,416.56 100.4,413.89 101.9,411.2 103.4,408.48 104.9,405.73 106.4,402.95 107.9,400.14 109.4,397.3 110.9,394.44 112.4,391.54 113.9,388.62 115.4,385.67" fill="none" stroke="#ea4c4c" stroke-width="0.75" stroke-opacity="0.8"/>
<polyline points="115.4,385.67 116.9,384.91 118.4,384.15 119.9,383.39 121.4,382.63 122.9,381.86 124.4,381.09 125.9,380.33 127.4,379.56 128.9,378.78 130.4,378.01 131.9,377.23 133.4,376.45 134.9,375.67 136.4,374.89 137.9,374.1 139.4,373.32 140.9,372.53 142.4,371.74 143.9,370.94 145.4,370.15" fill="none" stroke="#6ae2ee" stroke-width="0.75" stroke-opacity="0.8"/>
<polyline points="145.4,370.15 146.9,367.58 148.4,364.99 149.9,362.38 151.4,359.75 152.9,357.09 154.4,354.42 155.9,351.72 157.4,348.99 158.9,346.25 160.4,343.48 161.9,340.69 163.4,337.87 164.9,335.04 166.4,332.17 167.9,329.29 169.4,326.38" fill="none" stroke="#e6a0e8" stroke-width="0.75" stroke-opacity="0.8"/>
<polyline points="169.4,326.38 170.9,326.65 172.4,326.93 173.9,327.21 175.4,327.49 176.9,327.77 178.4,328.05 179.9,328.33 181.4,328.6 182.9,328.88 184.4,329.16 185.9,329.44 187.4,329.71 188.9,329.99 190.4,330.27 191.9,330.54 193.4,330.82 194.9,331.09 196.4,331.37 197.9,331.64 199.4,331.92 200.9,332.19 202.4,332.47 203.9,332.74 205.4,333.02 206.9,333.29 208.4,333.57 209.9,333.84 211.4,334.11" fill="none" stroke="#48e4f0" stroke-width="0.75" stroke-opacity="0.8"/>
<rect x="220.3" y="282.7" width="119.6" height="67.6" class="lb"/>
<clipPath id="clC"><rect x="220.3" y="282.7" width="119" height="67.6"/></clipPath>
<g clip-path="url(#clC)">
<rect x="228.1" y="286" width="2.8" height="2.8" fill="#a80a1c"/>
<text x="239.5" y="290.3" class="lg">Observed</text>
<line x1="222.9" x2="235.7" y1="297.03" y2="297.03" stroke="#3346dc" stroke-width="1.6"/>
<text x="239.5" y="299.93" class="lg">1990.0-1995.0 APC =-0.21</text>
<line x1="222.9" x2="235.7" y1="306.66" y2="306.66" stroke="#2e7a2e" stroke-width="1.6"/>
<text x="239.5" y="309.56" class="lg">1995.0-2000.0 APC =-2.10*</text>
<line x1="222.9" x2="235.7" y1="316.29" y2="316.29" stroke="#e83a3a" stroke-width="1.6"/>
<text x="239.5" y="319.19" class="lg">2000.0-2005.0 APC = 4.19*</text>
<line x1="222.9" x2="235.7" y1="325.92" y2="325.92" stroke="#6ee0ea" stroke-width="1.6"/>
<text x="239.5" y="328.82" class="lg">2005.0-2010.0 APC = 1.05*</text>
<line x1="222.9" x2="235.7" y1="335.55" y2="335.55" stroke="#e57ee8" stroke-width="1.6"/>
<text x="239.5" y="338.45" class="lg">2010.0-2014.0 APC = 3.41*</text>
<line x1="222.9" x2="235.7" y1="345.18" y2="345.18" stroke="#3de6f2" stroke-width="1.6"/>
<text x="239.5" y="348.08" class="lg">2014.0-2021.0 APC =-0.32*</text>
</g>
<text x="27" y="482.1" class="fn">* Indicates that the Annual Percent Change (APC) is</text>
<text x="19.8" y="491.5" class="fn">significantly different from zero at the alpha = 0.05 level.</text>
<text x="60.8" y="500.9" class="fn">Final Selected Model: 5 Joinpoints.</text>
<text x="348.3" y="268.8" class="let">D</text>
<text x="425.5" y="267.9" class="ttl">Female: 6 Joinpoints</text>
<rect x="371.8" y="278.9" width="190.7" height="173.5" fill="#fff"/>
<line x1="371.8" x2="562.5" y1="437.5" y2="437.5" class="gh"/>
<line x1="371.8" x2="562.5" y1="423.5" y2="423.5" class="gh"/>
<line x1="371.8" x2="562.5" y1="408.5" y2="408.5" class="gh"/>
<line x1="371.8" x2="562.5" y1="393.5" y2="393.5" class="gh"/>
<line x1="371.8" x2="562.5" y1="378.5" y2="378.5" class="gh"/>
<line x1="371.8" x2="562.5" y1="364.5" y2="364.5" class="gh"/>
<line x1="371.8" x2="562.5" y1="349.5" y2="349.5" class="gh"/>
<line x1="371.8" x2="562.5" y1="334.5" y2="334.5" class="gh"/>
<line x1="371.8" x2="562.5" y1="319.5" y2="319.5" class="gh"/>
<line x1="371.8" x2="562.5" y1="305.5" y2="305.5" class="gh"/>
<line x1="371.8" x2="562.5" y1="290.5" y2="290.5" class="gh"/>
<line x1="389.5" x2="389.5" y1="278.9" y2="452.4" class="gv"/>
<line x1="406.5" x2="406.5" y1="278.9" y2="452.4" class="gv"/>
<line x1="423.5" x2="423.5" y1="278.9" y2="452.4" class="gv"/>
<line x1="441.5" x2="441.5" y1="278.9" y2="452.4" class="gv"/>
<line x1="458.5" x2="458.5" y1="278.9" y2="452.4" class="gv"/>
<line x1="475.5" x2="475.5" y1="278.9" y2="452.4" class="gv"/>
<line x1="493.5" x2="493.5" y1="278.9" y2="452.4" class="gv"/>
<line x1="510.5" x2="510.5" y1="278.9" y2="452.4" class="gv"/>
<line x1="527.5" x2="527.5" y1="278.9" y2="452.4" class="gv"/>
<line x1="545.5" x2="545.5" y1="278.9" y2="452.4" class="gv"/>
<rect x="371.8" y="278.9" width="190.7" height="173.5" class="bd"/>
<text transform="translate(371.4,453.93) scale(0.92,1)" class="yt">1024</text>
<text transform="translate(371.4,439.19) scale(0.92,1)" class="yt">1044</text>
<text transform="translate(371.4,424.45) scale(0.92,1)" class="yt">1064</text>
<text transform="translate(371.4,409.71) scale(0.92,1)" class="yt">1084</text>
<text transform="translate(371.4,394.97) scale(0.92,1)" class="yt">1104</text>
<text transform="translate(371.4,380.23) scale(0.92,1)" class="yt">1124</text>
<text transform="translate(371.4,365.49) scale(0.92,1)" class="yt">1144</text>
<text transform="translate(371.4,350.75) scale(0.92,1)" class="yt">1164</text>
<text transform="translate(371.4,336.01) scale(0.92,1)" class="yt">1184</text>
<text transform="translate(371.4,321.27) scale(0.92,1)" class="yt">1204</text>
<text transform="translate(371.4,306.53) scale(0.92,1)" class="yt">1224</text>
<text transform="translate(371.4,291.79) scale(0.92,1)" class="yt">1244</text>
<text transform="translate(368.1,462.2) scale(0.92,1)" class="xt">1989</text>
<text transform="translate(386.1,462.2) scale(0.92,1)" class="xt">1992</text>
<text transform="translate(404.1,462.2) scale(0.92,1)" class="xt">1995</text>
<text transform="translate(422.1,462.2) scale(0.92,1)" class="xt">1998</text>
<text transform="translate(440.1,462.2) scale(0.92,1)" class="xt">2001</text>
<text transform="translate(458.1,462.2) scale(0.92,1)" class="xt">2004</text>
<text transform="translate(476.1,462.2) scale(0.92,1)" class="xt">2007</text>
<text transform="translate(494.1,462.2) scale(0.92,1)" class="xt">2010</text>
<text transform="translate(512.1,462.2) scale(0.92,1)" class="xt">2013</text>
<text transform="translate(530.1,462.2) scale(0.92,1)" class="xt">2016</text>
<text transform="translate(548.1,462.2) scale(0.92,1)" class="xt">2019</text>
<text transform="translate(566.1,462.2) scale(0.92,1)" class="xt">2022</text>
<text transform="translate(352.1,366.9) rotate(-90)" class="al">val</text>
<text x="467.6" y="472.4" class="al">year</text>
<rect x="376.33" y="298.67" width="2.5" height="2.5" fill="#a80a1c"/>
<rect x="382.11" y="310.67" width="2.5" height="2.5" fill="#a80a1c"/>
<rect x="387.89" y="322.66" width="2.5" height="2.5" fill="#a80a1c"/>
<rect x="393.67" y="333.92" width="2.5" height="2.5" fill="#a80a1c"/>
<rect x="399.44" y="344.15" width="2.5" height="2.5" fill="#a80a1c"/>
<rect x="405.22" y="352.1" width="2.5" height="2.5" fill="#a80a1c"/>
<rect x="411" y="363.28" width="2.5" height="2.5" fill="#a80a1c"/>
<rect x="416.78" y="381.39" width="2.5" height="2.5" fill="#a80a1c"/>
<rect x="422.56" y="400.45" width="2.5" height="2.5" fill="#a80a1c"/>
<rect x="428.34" y="416.27" width="2.5" height="2.5" fill="#a80a1c"/>
<rect x="434.12" y="423.85" width="2.5" height="2.5" fill="#a80a1c"/>
<rect x="439.9" y="421.27" width="2.5" height="2.5" fill="#a80a1c"/>
<rect x="445.67" y="413.03" width="2.5" height="2.5" fill="#a80a1c"/>
<rect x="451.45" y="402.87" width="2.5" height="2.5" fill="#a80a1c"/>
<rect x="457.23" y="394.63" width="2.5" height="2.5" fill="#a80a1c"/>
<rect x="463.01" y="392.06" width="2.5" height="2.5" fill="#a80a1c"/>
<rect x="468.79" y="397.13" width="2.5" height="2.5" fill="#a80a1c"/>
<rect x="474.57" y="404.79" width="2.5" height="2.5" fill="#a80a1c"/>
<rect x="480.35" y="413.55" width="2.5" height="2.5" fill="#a80a1c"/>
<rect x="486.13" y="420.54" width="2.5" height="2.5" fill="#a80a1c"/>
<rect x="491.9" y="423.63" width="2.5" height="2.5" fill="#a80a1c"/>
<rect x="497.68" y="414.87" width="2.5" height="2.5" fill="#a80a1c"/>
<rect x="503.46" y="392.94" width="2.5" height="2.5" fill="#a80a1c"/>
<rect x="509.24" y="367.04" width="2.5" height="2.5" fill="#a80a1c"/>
<rect x="515.02" y="345.55" width="2.5" height="2.5" fill="#a80a1c"/>
<rect x="520.8" y="337.53" width="2.5" height="2.5" fill="#a80a1c"/>
<rect x="526.58" y="350.55" width="2.5" height="2.5" fill="#a80a1c"/>
<rect x="532.36" y="378.22" width="2.5" height="2.5" fill="#a80a1c"/>
<rect x="538.13" y="406.11" width="2.5" height="2.5" fill="#a80a1c"/>
<rect x="543.91" y="419.95" width="2.5" height="2.5" fill="#a80a1c"/>
<rect x="549.69" y="419.95" width="2.5" height="2.5" fill="#a80a1c"/>
<rect x="555.47" y="417.96" width="2.5" height="2.5" fill="#a80a1c"/>
<polyline points="377.58,300.07 379.02,302.91 380.47,305.75 381.91,308.57 383.36,311.39 384.8,314.2 386.25,317 387.69,319.79 389.14,322.57 390.58,325.35 392.03,328.11 393.47,330.87 394.92,333.62 396.36,336.36 397.8,339.09 399.25,341.81 400.69,344.52 402.14,347.23 403.58,349.92 405.03,352.61 406.47,355.29 407.92,357.96 409.36,360.62 410.81,363.28 412.25,365.92" fill="none" stroke="#5262ec" stroke-width="0.75" stroke-opacity="0.8"/>
<polyline points="412.25,365.92 413.7,369.98 415.14,374.03 416.59,378.05 418.03,382.05 419.48,386.03 420.92,390 422.36,393.94 423.81,397.87 425.25,401.78 426.7,405.67 428.14,409.54 429.59,413.39 431.03,417.22 432.48,421.03 433.92,424.83 435.37,428.6" fill="none" stroke="#4a8c4a" stroke-width="0.75" stroke-opacity="0.8"/>
<polyline points="435.37,428.6 436.81,426.72 438.26,424.84 439.7,422.95 441.15,421.06 442.59,419.17 444.03,417.27 445.48,415.36 446.92,413.45 448.37,411.53 449.81,409.61 451.26,407.69 452.7,405.76 454.15,403.83 455.59,401.89 457.04,399.95 458.48,398 459.93,396.05 461.37,394.09 462.82,392.13 464.26,390.16" fill="none" stroke="#ea4c4c" stroke-width="0.75" stroke-opacity="0.8"/>
<polyline points="464.26,390.16 465.71,392.13 467.15,394.09 468.59,396.04 470.04,397.99 471.48,399.94 472.93,401.88 474.37,403.82 475.82,405.75 477.26,407.68 478.71,409.6 480.15,411.52 481.6,413.43 483.04,415.34 484.49,417.25 485.93,419.15 487.38,421.04 488.82,422.93 490.27,424.82 491.71,426.7 493.15,428.58" fill="none" stroke="#6ae2ee" stroke-width="0.75" stroke-opacity="0.8"/>
<polyline points="493.15,428.58 494.6,424.01 496.04,419.42 497.49,414.8 498.93,410.15 500.38,405.48 501.82,400.78 503.27,396.05 504.71,391.29 506.16,386.51 507.6,381.69 509.05,376.85 510.49,371.98 511.94,367.09 513.38,362.16 514.83,357.2 516.27,352.22 517.71,347.2 519.16,342.16 520.6,337.09 522.05,331.99" fill="none" stroke="#e6a0e8" stroke-width="0.75" stroke-opacity="0.8"/>
<polyline points="522.05,331.99 523.49,338.01 524.94,344 526.38,349.94 527.83,355.84 529.27,361.71 530.72,367.53 532.16,373.31 533.61,379.05 535.05,384.76 536.5,390.42 537.94,396.04 539.38,401.63 540.83,407.17 542.27,412.68 543.72,418.15 545.16,423.59" fill="none" stroke="#48e4f0" stroke-width="0.75" stroke-opacity="0.8"/>
<polyline points="545.16,423.59 546.61,422.96 548.05,422.33 549.5,421.71 550.94,421.08 552.39,420.46 553.83,419.83 555.28,419.2 556.72,418.57" fill="none" stroke="#f0a840" stroke-width="0.75" stroke-opacity="0.8"/>
<rect x="565.8" y="279.2" width="118.7" height="77.4" class="lb"/>
<clipPath id="clD"><rect x="565.8" y="279.2" width="118.1" height="77.4"/></clipPath>
<g clip-path="url(#clD)">
<rect x="574.8" y="282.7" width="2.8" height="2.8" fill="#a80a1c"/>
<text x="585" y="287" class="lg">Observed</text>
<line x1="569.5" x2="582.7" y1="293.76" y2="293.76" stroke="#3346dc" stroke-width="1.6"/>
<text x="585" y="296.66" class="lg">1990.0-1996.0 APC =-1.25*</text>
<line x1="569.5" x2="582.7" y1="303.42" y2="303.42" stroke="#2e7a2e" stroke-width="1.6"/>
<text x="585" y="306.32" class="lg">1996.0-2000.0 APC =-1.92*</text>
<line x1="569.5" x2="582.7" y1="313.08" y2="313.08" stroke="#e83a3a" stroke-width="1.6"/>
<text x="585" y="315.98" class="lg">2000.0-2005.0 APC = 0.97*</text>
<line x1="569.5" x2="582.7" y1="322.74" y2="322.74" stroke="#6ee0ea" stroke-width="1.6"/>
<text x="585" y="325.64" class="lg">2005.0-2010.0 APC =-0.96*</text>
<line x1="569.5" x2="582.7" y1="332.4" y2="332.4" stroke="#e57ee8" stroke-width="1.6"/>
<text x="585" y="335.3" class="lg">2010.0-2015.0 APC = 2.37*</text>
<line x1="569.5" x2="582.7" y1="342.06" y2="342.06" stroke="#3de6f2" stroke-width="1.6"/>
<text x="585" y="344.96" class="lg">2015.0-2019.0 APC =-2.73*</text>
<line x1="569.5" x2="582.7" y1="351.72" y2="351.72" stroke="#f0a030" stroke-width="1.6"/>
<text x="585" y="354.62" class="lg">2019.0-2021.0 APC = 0.32</text>
</g>
<text x="384.8" y="482.1" class="fn">* Indicates that the Annual Percent Change (APC) is</text>
<text x="376.8" y="491.5" class="fn">significantly different from zero at the alpha = 0.05 level.</text>
<text x="417.9" y="500.9" class="fn">Final Selected Model: 6 Joinpoints.</text>
<text x="3.6" y="531.1" class="let">E</text>
<text x="70.3" y="525.4" class="ttl">Male: 6 Joinpoints</text>
<rect x="19.5" y="539.3" width="198.1" height="169.1" fill="#fff"/>
<line x1="19.5" x2="217.6" y1="693.5" y2="693.5" class="gh"/>
<line x1="19.5" x2="217.6" y1="678.5" y2="678.5" class="gh"/>
<line x1="19.5" x2="217.6" y1="662.5" y2="662.5" class="gh"/>
<line x1="19.5" x2="217.6" y1="647.5" y2="647.5" class="gh"/>
<line x1="19.5" x2="217.6" y1="631.5" y2="631.5" class="gh"/>
<line x1="19.5" x2="217.6" y1="616.5" y2="616.5" class="gh"/>
<line x1="19.5" x2="217.6" y1="600.5" y2="600.5" class="gh"/>
<line x1="19.5" x2="217.6" y1="585.5" y2="585.5" class="gh"/>
<line x1="19.5" x2="217.6" y1="569.5" y2="569.5" class="gh"/>
<line x1="19.5" x2="217.6" y1="554.5" y2="554.5" class="gh"/>
<line x1="37.5" x2="37.5" y1="539.3" y2="708.4" class="gv"/>
<line x1="55.5" x2="55.5" y1="539.3" y2="708.4" class="gv"/>
<line x1="73.5" x2="73.5" y1="539.3" y2="708.4" class="gv"/>
<line x1="91.5" x2="91.5" y1="539.3" y2="708.4" class="gv"/>
<line x1="109.5" x2="109.5" y1="539.3" y2="708.4" class="gv"/>
<line x1="127.5" x2="127.5" y1="539.3" y2="708.4" class="gv"/>
<line x1="145.5" x2="145.5" y1="539.3" y2="708.4" class="gv"/>
<line x1="163.5" x2="163.5" y1="539.3" y2="708.4" class="gv"/>
<line x1="181.5" x2="181.5" y1="539.3" y2="708.4" class="gv"/>
<line x1="199.5" x2="199.5" y1="539.3" y2="708.4" class="gv"/>
<rect x="19.5" y="539.3" width="198.1" height="169.1" class="bd"/>
<text transform="translate(17.7,710.5) scale(0.92,1)" class="yt">16</text>
<text transform="translate(17.7,695.07) scale(0.92,1)" class="yt">17</text>
<text transform="translate(17.7,679.63) scale(0.92,1)" class="yt">18</text>
<text transform="translate(17.7,664.2) scale(0.92,1)" class="yt">19</text>
<text transform="translate(17.7,648.76) scale(0.92,1)" class="yt">20</text>
<text transform="translate(17.7,633.33) scale(0.92,1)" class="yt">21</text>
<text transform="translate(17.7,617.89) scale(0.92,1)" class="yt">22</text>
<text transform="translate(17.7,602.46) scale(0.92,1)" class="yt">23</text>
<text transform="translate(17.7,587.02) scale(0.92,1)" class="yt">24</text>
<text transform="translate(17.7,571.59) scale(0.92,1)" class="yt">25</text>
<text transform="translate(17.7,556.15) scale(0.92,1)" class="yt">26</text>
<text transform="translate(17.7,540.72) scale(0.92,1)" class="yt">27</text>
<text transform="translate(19.2,719) scale(0.92,1)" class="xt">1989</text>
<text transform="translate(37.21,719) scale(0.92,1)" class="xt">1992</text>
<text transform="translate(55.22,719) scale(0.92,1)" class="xt">1995</text>
<text transform="translate(73.23,719) scale(0.92,1)" class="xt">1998</text>
<text transform="translate(91.24,719) scale(0.92,1)" class="xt">2001</text>
<text transform="translate(109.25,719) scale(0.92,1)" class="xt">2004</text>
<text transform="translate(127.25,719) scale(0.92,1)" class="xt">2007</text>
<text transform="translate(145.26,719) scale(0.92,1)" class="xt">2010</text>
<text transform="translate(163.27,719) scale(0.92,1)" class="xt">2013</text>
<text transform="translate(181.28,719) scale(0.92,1)" class="xt">2016</text>
<text transform="translate(199.29,719) scale(0.92,1)" class="xt">2019</text>
<text transform="translate(217.3,719) scale(0.92,1)" class="xt">2022</text>
<text transform="translate(6.8,622.8) rotate(-90)" class="al">val</text>
<text x="117.2" y="728.5" class="al">year</text>
<rect x="24.25" y="654.55" width="2.5" height="2.5" fill="#a80a1c"/>
<rect x="30.26" y="659.78" width="2.5" height="2.5" fill="#a80a1c"/>
<rect x="36.26" y="665.01" width="2.5" height="2.5" fill="#a80a1c"/>
<rect x="42.26" y="669.47" width="2.5" height="2.5" fill="#a80a1c"/>
<rect x="48.27" y="672.7" width="2.5" height="2.5" fill="#a80a1c"/>
<rect x="54.27" y="674.08" width="2.5" height="2.5" fill="#a80a1c"/>
<rect x="60.27" y="675.62" width="2.5" height="2.5" fill="#a80a1c"/>
<rect x="66.27" y="679" width="2.5" height="2.5" fill="#a80a1c"/>
<rect x="72.28" y="682.39" width="2.5" height="2.5" fill="#a80a1c"/>
<rect x="78.28" y="684.08" width="2.5" height="2.5" fill="#a80a1c"/>
<rect x="84.28" y="682.7" width="2.5" height="2.5" fill="#a80a1c"/>
<rect x="90.29" y="674.39" width="2.5" height="2.5" fill="#a80a1c"/>
<rect x="96.29" y="660.7" width="2.5" height="2.5" fill="#a80a1c"/>
<rect x="102.29" y="645.01" width="2.5" height="2.5" fill="#a80a1c"/>
<rect x="108.3" y="631.48" width="2.5" height="2.5" fill="#a80a1c"/>
<rect x="114.3" y="623.48" width="2.5" height="2.5" fill="#a80a1c"/>
<rect x="120.3" y="621.48" width="2.5" height="2.5" fill="#a80a1c"/>
<rect x="126.3" y="620.41" width="2.5" height="2.5" fill="#a80a1c"/>
<rect x="132.31" y="620.41" width="2.5" height="2.5" fill="#a80a1c"/>
<rect x="138.31" y="619.79" width="2.5" height="2.5" fill="#a80a1c"/>
<rect x="144.31" y="617.79" width="2.5" height="2.5" fill="#a80a1c"/>
<rect x="150.32" y="612.1" width="2.5" height="2.5" fill="#a80a1c"/>
<rect x="156.32" y="602.57" width="2.5" height="2.5" fill="#a80a1c"/>
<rect x="162.32" y="592.42" width="2.5" height="2.5" fill="#a80a1c"/>
<rect x="168.33" y="583.65" width="2.5" height="2.5" fill="#a80a1c"/>
<rect x="174.33" y="579.5" width="2.5" height="2.5" fill="#a80a1c"/>
<rect x="180.33" y="579.8" width="2.5" height="2.5" fill="#a80a1c"/>
<rect x="186.33" y="580.88" width="2.5" height="2.5" fill="#a80a1c"/>
<rect x="192.34" y="582.73" width="2.5" height="2.5" fill="#a80a1c"/>
<rect x="198.34" y="582.73" width="2.5" height="2.5" fill="#a80a1c"/>
<rect x="204.34" y="575.65" width="2.5" height="2.5" fill="#a80a1c"/>
<rect x="210.35" y="570.58" width="2.5" height="2.5" fill="#a80a1c"/>
<polyline points="25.5,655.8 27,657.15 28.5,658.49 30.01,659.82 31.51,661.15 33.01,662.47 34.51,663.78 36.01,665.09 37.51,666.4 39.01,667.7 40.51,668.99 42.01,670.27 43.51,671.55" fill="none" stroke="#5262ec" stroke-width="0.75" stroke-opacity="0.8"/>
<polyline points="43.51,671.55 45.01,672.08 46.51,672.6 48.01,673.13 49.52,673.65 51.02,674.17 52.52,674.69 54.02,675.21 55.52,675.73 57.02,676.24 58.52,676.76 60.02,677.27 61.52,677.79 63.02,678.3 64.52,678.81 66.02,679.33 67.52,679.84 69.03,680.35 70.53,680.85 72.03,681.36 73.53,681.87 75.03,682.37 76.53,682.88 78.03,683.38 79.53,683.89 81.03,684.39 82.53,684.89 84.03,685.39 85.53,685.89" fill="none" stroke="#4a8c4a" stroke-width="0.75" stroke-opacity="0.8"/>
<polyline points="85.53,685.89 87.03,683.02 88.53,680.12 90.04,677.19 91.54,674.23 93.04,671.24 94.54,668.21 96.04,665.16 97.54,662.07 99.04,658.95 100.54,655.79 102.04,652.6 103.54,649.38 105.04,646.12 106.54,642.83 108.04,639.5 109.55,636.14 111.05,632.74 112.55,629.3 114.05,625.83 115.55,622.32" fill="none" stroke="#ea4c4c" stroke-width="0.75" stroke-opacity="0.8"/>
<polyline points="115.55,622.32 117.05,622.28 118.55,622.24 120.05,622.2 121.55,622.15 123.05,622.11 124.55,622.07 126.05,622.03 127.55,621.99 129.06,621.95 130.56,621.91 132.06,621.86 133.56,621.82 135.06,621.78 136.56,621.74 138.06,621.7 139.56,621.66 141.06,621.61 142.56,621.57 144.06,621.53 145.56,621.49" fill="none" stroke="#6ae2ee" stroke-width="0.75" stroke-opacity="0.8"/>
<polyline points="145.56,621.49 147.06,619.25 148.57,616.99 150.07,614.72 151.57,612.43 153.07,610.13 154.57,607.81 156.07,605.48 157.57,603.13 159.07,600.76 160.57,598.38 162.07,595.98 163.57,593.57 165.07,591.14 166.57,588.7 168.07,586.23 169.58,583.75" fill="none" stroke="#e6a0e8" stroke-width="0.75" stroke-opacity="0.8"/>
<polyline points="169.58,583.75 171.08,583.73 172.58,583.7 174.08,583.67 175.58,583.64 177.08,583.62 178.58,583.59 180.08,583.56 181.58,583.53 183.08,583.5 184.58,583.48 186.08,583.45 187.58,583.42 189.09,583.39 190.59,583.37 192.09,583.34 193.59,583.31 195.09,583.28 196.59,583.25 198.09,583.23 199.59,583.2" fill="none" stroke="#48e4f0" stroke-width="0.75" stroke-opacity="0.8"/>
<polyline points="199.59,583.2 201.09,581.85 202.59,580.5 204.09,579.14 205.59,577.78 207.09,576.41 208.6,575.04 210.1,573.66 211.6,572.28" fill="none" stroke="#f0a840" stroke-width="0.75" stroke-opacity="0.8"/>
<rect x="220.6" y="539.3" width="119.3" height="77.7" class="lb"/>
<clipPath id="clE"><rect x="220.6" y="539.3" width="118.7" height="77.7"/></clipPath>
<g clip-path="url(#clE)">
<rect x="229.5" y="543" width="2.8" height="2.8" fill="#a80a1c"/>
<text x="239.8" y="547.3" class="lg">Observed</text>
<line x1="224.3" x2="237.2" y1="554.13" y2="554.13" stroke="#3346dc" stroke-width="1.6"/>
<text x="239.8" y="557.03" class="lg">1990.0-1993.0 APC =-1.79*</text>
<line x1="224.3" x2="237.2" y1="563.86" y2="563.86" stroke="#2e7a2e" stroke-width="1.6"/>
<text x="239.8" y="566.76" class="lg">1993.0-2000.0 APC =-0.74*</text>
<line x1="224.3" x2="237.2" y1="573.59" y2="573.59" stroke="#e83a3a" stroke-width="1.6"/>
<text x="239.8" y="576.49" class="lg">2000.0-2005.0 APC = 4.34*</text>
<line x1="224.3" x2="237.2" y1="583.32" y2="583.32" stroke="#6ee0ea" stroke-width="1.6"/>
<text x="239.8" y="586.22" class="lg">2005.0-2010.0 APC = 0.05</text>
<line x1="224.3" x2="237.2" y1="593.05" y2="593.05" stroke="#e57ee8" stroke-width="1.6"/>
<text x="239.8" y="595.95" class="lg">2010.0-2014.0 APC = 2.72*</text>
<line x1="224.3" x2="237.2" y1="602.78" y2="602.78" stroke="#3de6f2" stroke-width="1.6"/>
<text x="239.8" y="605.68" class="lg">2014.0-2019.0 APC = 0.03</text>
<line x1="224.3" x2="237.2" y1="612.51" y2="612.51" stroke="#f0a030" stroke-width="1.6"/>
<text x="239.8" y="615.41" class="lg">2019.0-2021.0 APC= 1.46*</text>
</g>
<text x="27" y="738.5" class="fn">* Indicates that the Annual Percent Change (APC) is</text>
<text x="19.8" y="747.9" class="fn">significantly different from zero at the alpha = 0.05 level.</text>
<text x="60.8" y="757.3" class="fn">Final Selected Model: 6 Joinpoints.</text>
<text x="348.3" y="531.1" class="let">F</text>
<text x="425.5" y="524.9" class="ttl">Male: 6 Joinpoints</text>
<rect x="372" y="535.4" width="190.4" height="172.7" fill="#fff"/>
<line x1="372" x2="562.4" y1="693.5" y2="693.5" class="gh"/>
<line x1="372" x2="562.4" y1="678.5" y2="678.5" class="gh"/>
<line x1="372" x2="562.4" y1="663.5" y2="663.5" class="gh"/>
<line x1="372" x2="562.4" y1="649.5" y2="649.5" class="gh"/>
<line x1="372" x2="562.4" y1="634.5" y2="634.5" class="gh"/>
<line x1="372" x2="562.4" y1="619.5" y2="619.5" class="gh"/>
<line x1="372" x2="562.4" y1="604.5" y2="604.5" class="gh"/>
<line x1="372" x2="562.4" y1="589.5" y2="589.5" class="gh"/>
<line x1="372" x2="562.4" y1="574.5" y2="574.5" class="gh"/>
<line x1="372" x2="562.4" y1="559.5" y2="559.5" class="gh"/>
<line x1="372" x2="562.4" y1="545.5" y2="545.5" class="gh"/>
<line x1="389.5" x2="389.5" y1="535.4" y2="708.1" class="gv"/>
<line x1="406.5" x2="406.5" y1="535.4" y2="708.1" class="gv"/>
<line x1="423.5" x2="423.5" y1="535.4" y2="708.1" class="gv"/>
<line x1="441.5" x2="441.5" y1="535.4" y2="708.1" class="gv"/>
<line x1="458.5" x2="458.5" y1="535.4" y2="708.1" class="gv"/>
<line x1="475.5" x2="475.5" y1="535.4" y2="708.1" class="gv"/>
<line x1="493.5" x2="493.5" y1="535.4" y2="708.1" class="gv"/>
<line x1="510.5" x2="510.5" y1="535.4" y2="708.1" class="gv"/>
<line x1="527.5" x2="527.5" y1="535.4" y2="708.1" class="gv"/>
<line x1="545.5" x2="545.5" y1="535.4" y2="708.1" class="gv"/>
<rect x="372" y="535.4" width="190.4" height="172.7" class="bd"/>
<text transform="translate(370.6,711.16) scale(0.92,1)" class="yt">1001</text>
<text transform="translate(370.6,696.3) scale(0.92,1)" class="yt">1021</text>
<text transform="translate(370.6,681.44) scale(0.92,1)" class="yt">1041</text>
<text transform="translate(370.6,666.58) scale(0.92,1)" class="yt">1061</text>
<text transform="translate(370.6,651.72) scale(0.92,1)" class="yt">1081</text>
<text transform="translate(370.6,636.86) scale(0.92,1)" class="yt">1101</text>
<text transform="translate(370.6,622) scale(0.92,1)" class="yt">1121</text>
<text transform="translate(370.6,607.14) scale(0.92,1)" class="yt">1141</text>
<text transform="translate(370.6,592.28) scale(0.92,1)" class="yt">1161</text>
<text transform="translate(370.6,577.42) scale(0.92,1)" class="yt">1181</text>
<text transform="translate(370.6,562.56) scale(0.92,1)" class="yt">1201</text>
<text transform="translate(370.6,547.7) scale(0.92,1)" class="yt">1221</text>
<text transform="translate(368.1,718.7) scale(0.92,1)" class="xt">1989</text>
<text transform="translate(386.1,718.7) scale(0.92,1)" class="xt">1992</text>
<text transform="translate(404.1,718.7) scale(0.92,1)" class="xt">1995</text>
<text transform="translate(422.1,718.7) scale(0.92,1)" class="xt">1998</text>
<text transform="translate(440.1,718.7) scale(0.92,1)" class="xt">2001</text>
<text transform="translate(458.1,718.7) scale(0.92,1)" class="xt">2004</text>
<text transform="translate(476.1,718.7) scale(0.92,1)" class="xt">2007</text>
<text transform="translate(494.1,718.7) scale(0.92,1)" class="xt">2010</text>
<text transform="translate(512.1,718.7) scale(0.92,1)" class="xt">2013</text>
<text transform="translate(530.1,718.7) scale(0.92,1)" class="xt">2016</text>
<text transform="translate(548.1,718.7) scale(0.92,1)" class="xt">2019</text>
<text transform="translate(566.1,718.7) scale(0.92,1)" class="xt">2022</text>
<text transform="translate(352.1,623.3) rotate(-90)" class="al">val</text>
<text x="467.6" y="728.8" class="al">year</text>
<rect x="376.52" y="557.96" width="2.5" height="2.5" fill="#a80a1c"/>
<rect x="382.29" y="568.62" width="2.5" height="2.5" fill="#a80a1c"/>
<rect x="388.06" y="579.35" width="2.5" height="2.5" fill="#a80a1c"/>
<rect x="393.83" y="589.56" width="2.5" height="2.5" fill="#a80a1c"/>
<rect x="399.6" y="598.22" width="2.5" height="2.5" fill="#a80a1c"/>
<rect x="405.37" y="605.47" width="2.5" height="2.5" fill="#a80a1c"/>
<rect x="411.14" y="617.24" width="2.5" height="2.5" fill="#a80a1c"/>
<rect x="416.91" y="636.48" width="2.5" height="2.5" fill="#a80a1c"/>
<rect x="422.68" y="657.42" width="2.5" height="2.5" fill="#a80a1c"/>
<rect x="428.45" y="674.73" width="2.5" height="2.5" fill="#a80a1c"/>
<rect x="434.22" y="682.5" width="2.5" height="2.5" fill="#a80a1c"/>
<rect x="439.99" y="679.91" width="2.5" height="2.5" fill="#a80a1c"/>
<rect x="445.76" y="672.37" width="2.5" height="2.5" fill="#a80a1c"/>
<rect x="451.53" y="662.82" width="2.5" height="2.5" fill="#a80a1c"/>
<rect x="457.3" y="655.42" width="2.5" height="2.5" fill="#a80a1c"/>
<rect x="463.07" y="653.35" width="2.5" height="2.5" fill="#a80a1c"/>
<rect x="468.83" y="657.86" width="2.5" height="2.5" fill="#a80a1c"/>
<rect x="474.6" y="664.97" width="2.5" height="2.5" fill="#a80a1c"/>
<rect x="480.37" y="672.96" width="2.5" height="2.5" fill="#a80a1c"/>
<rect x="486.14" y="679.84" width="2.5" height="2.5" fill="#a80a1c"/>
<rect x="491.91" y="683.61" width="2.5" height="2.5" fill="#a80a1c"/>
<rect x="497.68" y="676.66" width="2.5" height="2.5" fill="#a80a1c"/>
<rect x="503.45" y="659.27" width="2.5" height="2.5" fill="#a80a1c"/>
<rect x="509.22" y="638.47" width="2.5" height="2.5" fill="#a80a1c"/>
<rect x="514.99" y="620.94" width="2.5" height="2.5" fill="#a80a1c"/>
<rect x="520.76" y="613.83" width="2.5" height="2.5" fill="#a80a1c"/>
<rect x="526.53" y="624.49" width="2.5" height="2.5" fill="#a80a1c"/>
<rect x="532.3" y="645.95" width="2.5" height="2.5" fill="#a80a1c"/>
<rect x="538.07" y="667.85" width="2.5" height="2.5" fill="#a80a1c"/>
<rect x="543.84" y="679.25" width="2.5" height="2.5" fill="#a80a1c"/>
<rect x="549.61" y="679.54" width="2.5" height="2.5" fill="#a80a1c"/>
<rect x="555.38" y="677.92" width="2.5" height="2.5" fill="#a80a1c"/>
<polyline points="377.77,559.21 379.21,561.78 380.65,564.34 382.1,566.9 383.54,569.44 384.98,571.98 386.42,574.51 387.87,577.04 389.31,579.56 390.75,582.07 392.19,584.57 393.64,587.06 395.08,589.55 396.52,592.03 397.96,594.51 399.41,596.97 400.85,599.43 402.29,601.89 403.73,604.33 405.18,606.77 406.62,609.2 408.06,611.63 409.5,614.04 410.95,616.45 412.39,618.86" fill="none" stroke="#5262ec" stroke-width="0.75" stroke-opacity="0.8"/>
<polyline points="412.39,618.86 413.83,623.27 415.27,627.66 416.72,632.03 418.16,636.37 419.6,640.69 421.04,644.99 422.48,649.26 423.93,653.51 425.37,657.74 426.81,661.95 428.25,666.13 429.7,670.3 431.14,674.44 432.58,678.55 434.02,682.65 435.47,686.72" fill="none" stroke="#4a8c4a" stroke-width="0.75" stroke-opacity="0.8"/>
<polyline points="435.47,686.72 436.91,684.96 438.35,683.19 439.79,681.41 441.24,679.64 442.68,677.85 444.12,676.07 445.56,674.28 447.01,672.48 448.45,670.68 449.89,668.88 451.33,667.07 452.78,665.26 454.22,663.45 455.66,661.63 457.1,659.8 458.55,657.97 459.99,656.14 461.43,654.31 462.87,652.46 464.32,650.62" fill="none" stroke="#ea4c4c" stroke-width="0.75" stroke-opacity="0.8"/>
<polyline points="464.32,650.62 465.76,652.48 467.2,654.34 468.64,656.19 470.08,658.04 471.53,659.89 472.97,661.73 474.41,663.56 475.85,665.4 477.3,667.22 478.74,669.05 480.18,670.87 481.62,672.68 483.07,674.49 484.51,676.3 485.95,678.1 487.39,679.9 488.84,681.7 490.28,683.49 491.72,685.27 493.16,687.05" fill="none" stroke="#6ae2ee" stroke-width="0.75" stroke-opacity="0.8"/>
<polyline points="493.16,687.05 494.61,683.37 496.05,679.66 497.49,675.94 498.93,672.2 500.38,668.44 501.82,664.66 503.26,660.87 504.7,657.05 506.15,653.22 507.59,649.37 509.03,645.5 510.47,641.61 511.92,637.71 513.36,633.78 514.8,629.84 516.24,625.87 517.68,621.89 519.13,617.89 520.57,613.87 522.01,609.82" fill="none" stroke="#e6a0e8" stroke-width="0.75" stroke-opacity="0.8"/>
<polyline points="522.01,609.82 523.45,614.5 524.9,619.15 526.34,623.77 527.78,628.37 529.22,632.94 530.67,637.48 532.11,642 533.55,646.5 534.99,650.97 536.44,655.41 537.88,659.83 539.32,664.23 540.76,668.6 542.21,672.95 543.65,677.27 545.09,681.57" fill="none" stroke="#48e4f0" stroke-width="0.75" stroke-opacity="0.8"/>
<polyline points="545.09,681.57 546.53,681.15 547.98,680.73 549.42,680.3 550.86,679.88 552.3,679.46 553.75,679.04 555.19,678.61 556.63,678.19" fill="none" stroke="#f0a840" stroke-width="0.75" stroke-opacity="0.8"/>
<rect x="565.8" y="535.4" width="118.7" height="77.6" class="lb"/>
<clipPath id="clF"><rect x="565.8" y="535.4" width="118.1" height="77.6"/></clipPath>
<g clip-path="url(#clF)">
<rect x="574.7" y="539.3" width="2.8" height="2.8" fill="#a80a1c"/>
<text x="585" y="543.6" class="lg">Observed</text>
<line x1="569.4" x2="582.7" y1="550.37" y2="550.37" stroke="#3346dc" stroke-width="1.6"/>
<text x="585" y="553.27" class="lg">1990.0-1996.0 APC =-1.15*</text>
<line x1="569.4" x2="582.7" y1="560.04" y2="560.04" stroke="#2e7a2e" stroke-width="1.6"/>
<text x="585" y="562.94" class="lg">1996.0-2000.0 APC =-2.11*</text>
<line x1="569.4" x2="582.7" y1="569.71" y2="569.71" stroke="#e83a3a" stroke-width="1.6"/>
<text x="585" y="572.61" class="lg">2000.0-2005.0 APC = 0.93*</text>
<line x1="569.4" x2="582.7" y1="579.38" y2="579.38" stroke="#6ee0ea" stroke-width="1.6"/>
<text x="585" y="582.28" class="lg">2005.0-2010.0 APC =-0.93*</text>
<line x1="569.4" x2="582.7" y1="589.05" y2="589.05" stroke="#e57ee8" stroke-width="1.6"/>
<text x="585" y="591.95" class="lg">2010.0-2015.0 APC = 1.95*</text>
<line x1="569.4" x2="582.7" y1="598.72" y2="598.72" stroke="#3de6f2" stroke-width="1.6"/>
<text x="585" y="601.62" class="lg">2015.0-2019.0 APC =-2.21*</text>
<line x1="569.4" x2="582.7" y1="608.39" y2="608.39" stroke="#f0a030" stroke-width="1.6"/>
<text x="585" y="611.29" class="lg">2019.0-2021.0 APC = 0.22</text>
</g>
<text x="384.8" y="738.5" class="fn">* Indicates that the Annual Percent Change (APC) is</text>
<text x="376.8" y="747.9" class="fn">significantly different from zero at the alpha = 0.05 level.</text>
<text x="417.9" y="757.3" class="fn">Final Selected Model: 6 Joinpoints.</text>
</svg></body></html>
